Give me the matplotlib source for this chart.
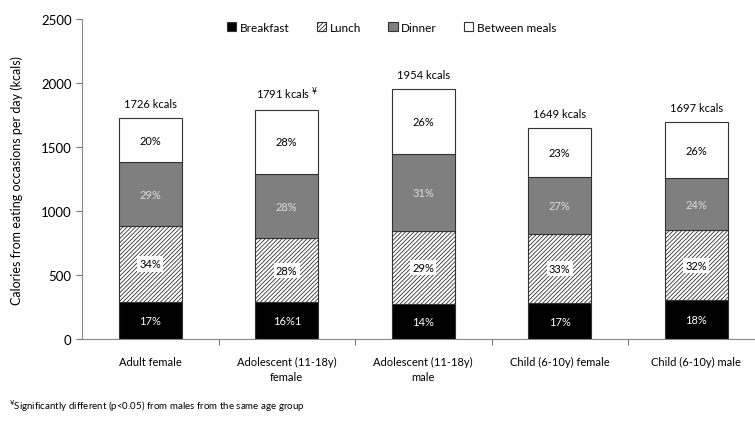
import numpy as np
import matplotlib
matplotlib.use('Agg')
import matplotlib.pyplot as plt

plt.rcParams['font.family'] = ['Lato', 'DejaVu Sans']
plt.rcParams['hatch.color'] = '#555555'
plt.rcParams['hatch.linewidth'] = 0.6

groups = ['Adult female', 'Adolescent (11-18y)\nfemale', 'Adolescent (11-18y)\nmale',
          'Child (6-10y) female', 'Child (6-10y) male']
totals = [1726, 1791, 1954, 1649, 1697]
total_marks = ['', ' $^{¥}$', '', '', '']

breakfast = [293, 287, 274, 280, 305]
lunch = [587, 501, 567, 544, 543]
dinner = [501, 501, 606, 445, 407]
between = [345, 502, 507, 380, 442]

pct_breakfast = ['17%', '16%1', '14%', '17%', '18%']
pct_lunch = ['34%', '28%', '29%', '33%', '32%']
pct_dinner = ['29%', '28%', '31%', '27%', '24%']
pct_between = ['20%', '28%', '26%', '23%', '26%']

fig = plt.figure(figsize=(7.55, 4.31), dpi=100)
ax = fig.add_axes([0.1086, 0.211, 0.8914, 0.7426])

x = np.arange(len(groups))
w = 0.46
edge = '#333333'
b1 = ax.bar(x, breakfast, w, color='black', edgecolor=edge, linewidth=0.8, label='Breakfast')
bot = np.array(breakfast)
b2 = ax.bar(x, lunch, w, bottom=bot, color='white', edgecolor=edge, hatch='////////',
            linewidth=0.8, label='Lunch')
bot = bot + np.array(lunch)
b3 = ax.bar(x, dinner, w, bottom=bot, color='#7f7f7f', edgecolor=edge, linewidth=0.8, label='Dinner')
bot = bot + np.array(dinner)
b4 = ax.bar(x, between, w, bottom=bot, color='white', edgecolor=edge, linewidth=0.8,
            label='Between meals')

fs = 8
for i in range(len(groups)):
    y0 = breakfast[i] / 2
    ax.text(x[i], y0, pct_breakfast[i], ha='center', va='center', color='white', fontsize=fs)
    y1 = breakfast[i] + lunch[i] / 2
    ax.text(x[i], y1, pct_lunch[i], ha='center', va='center', color='black', fontsize=fs,
            bbox=dict(facecolor='white', edgecolor='none', pad=1.5))
    y2 = breakfast[i] + lunch[i] + dinner[i] / 2
    ax.text(x[i], y2, pct_dinner[i], ha='center', va='center', color='#dddddd', fontsize=fs)
    y3 = breakfast[i] + lunch[i] + dinner[i] + between[i] / 2
    ax.text(x[i], y3, pct_between[i], ha='center', va='center', color='black', fontsize=fs)
    ax.text(x[i], totals[i] + 70, f'{totals[i]} kcals' + total_marks[i], ha='center',
            va='bottom', fontsize=fs)

ax.set_ylim(0, 2500)
ax.set_xlim(-0.5, 4.43)
ax.set_yticks(range(0, 2501, 500))
ax.set_xticks([0.5, 1.5, 2.5, 3.5])
ax.set_xticklabels([])
ax.set_xticks(x, minor=True)
ax.set_xticklabels(groups, minor=True, fontsize=8, linespacing=1.5)
ax.tick_params(axis='x', which='minor', length=0, pad=12)
ax.tick_params(axis='x', which='major', length=4, color='#777777')
ax.tick_params(axis='y', length=4, color='#777777', labelsize=9.5)
for s in ['top', 'right']:
    ax.spines[s].set_visible(False)
for s in ['left', 'bottom']:
    ax.spines[s].set_color('#888888')
ax.set_ylabel('Calories from eating occasions per day (kcals)', fontsize=9, labelpad=13)

ax.legend(handles=[b1, b2, b3, b4], ncol=4, frameon=False, loc='upper center',
          bbox_to_anchor=(0.46, 1.025), fontsize=8.5, handlelength=0.8, handleheight=0.8,
          handletextpad=0.3, columnspacing=2.3)

fig.text(0.012, 0.058, '$^{¥}$Significantly different (p<0.05) from males from the same age group',
         fontsize=7, ha='left', va='center')

fig.savefig('out.png', dpi=100)
